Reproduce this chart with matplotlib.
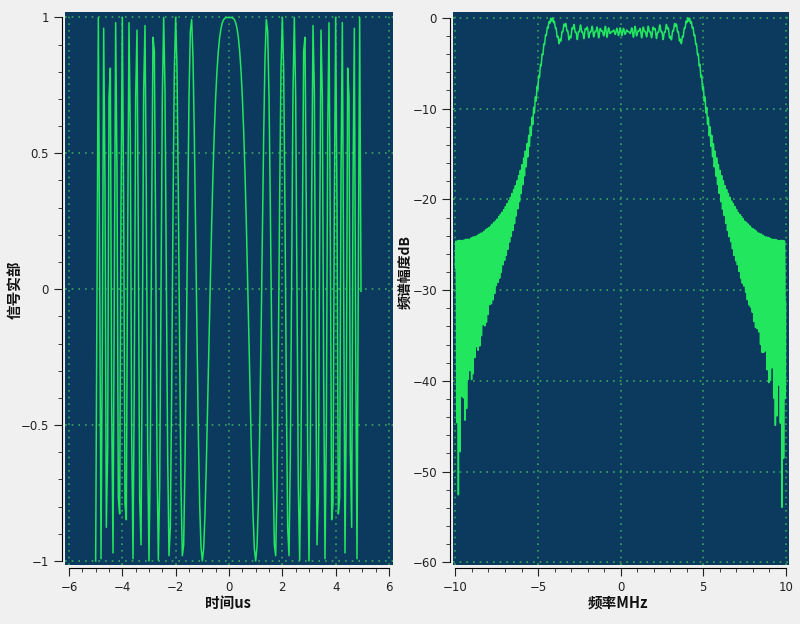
import numpy as np
import matplotlib
matplotlib.use("Agg")
import matplotlib.pyplot as plt
from matplotlib.ticker import MultipleLocator

plt.rcParams["font.family"] = ["Noto Sans CJK SC", "DejaVu Sans"]

# LFM pulse parameters: pulse -5..5 us, sweep -5..5 MHz, shown over +-10 MHz
pulse_us = 10.0
band_mhz = 10.0
fs_mhz = 20.0
nfft = 2048

t_us = np.arange(-pulse_us / 2, pulse_us / 2, 1.0 / fs_mhz)
k = band_mhz / pulse_us
sig = np.exp(1j * np.pi * k * t_us ** 2)
spec = np.abs(np.fft.fftshift(np.fft.fft(sig, nfft)))
spec_db = 20 * np.log10(spec / spec.max())
f_mhz = np.fft.fftshift(np.fft.fftfreq(nfft, 1.0 / fs_mhz))

BG = "#0c3a5f"
LINE = "#22e65e"
GRID = "#35a85c"
W, H = 800, 624

fig = plt.figure(figsize=(8.0, 6.24), dpi=100, facecolor="#f0f0f0")


def make_ax(x0, x1, y0, y1):
    return fig.add_axes([x0 / W, 1 - y1 / H, (x1 - x0) / W, (y1 - y0) / H])


def style(ax, xb, yb):
    ax.set_facecolor(BG)
    for s in ("top", "right"):
        ax.spines[s].set_visible(False)
    ax.spines["left"].set_position(("outward", 2))
    ax.spines["bottom"].set_position(("outward", 2))
    ax.spines["left"].set_bounds(*yb)
    ax.spines["bottom"].set_bounds(*xb)
    ax.tick_params(which="major", length=6, labelsize=8.5, color="#222222", labelcolor="#222222")
    ax.tick_params(which="minor", length=3, color="#222222")
    ax.grid(True, which="major", color=GRID, linestyle=(0, (1, 3)), linewidth=1.2)
    ax.set_axisbelow(True)
    for lbl in ax.get_xticklabels() + ax.get_yticklabels():
        lbl.set_fontfamily("DejaVu Sans")


# left: real part of the chirp
ax1 = make_ax(65, 393, 12, 565)
ax1.plot(t_us, sig.real, color=LINE, lw=1.1)
ax1.set_xlim(-6.15, 6.15)
ax1.set_ylim(-1.015, 1.02)
ax1.xaxis.set_minor_locator(MultipleLocator(0.5))
ax1.yaxis.set_minor_locator(MultipleLocator(0.1))
ax1.set_yticks([-1, -0.5, 0, 0.5, 1])
ax1.set_yticklabels(["\u22121", "\u22120.5", "0", "0.5", "1"])
ax1.set_xticks([-6, -4, -2, 0, 2, 4, 6])
ax1.set_xticklabels(["\u22126", "\u22124", "\u22122", "0", "2", "4", "6"])
style(ax1, (-6, 6), (-1, 1))

# right: amplitude spectrum in dB
ax2 = make_ax(453, 789, 12, 565)
ax2.plot(f_mhz, spec_db, color=LINE, lw=1.1)
ax2.set_xlim(-10.15, 10.2)
ax2.set_ylim(-60.3, 0.65)
ax2.xaxis.set_minor_locator(MultipleLocator(1))
ax2.yaxis.set_minor_locator(MultipleLocator(2))
ax2.set_xticks([-10, -5, 0, 5, 10])
ax2.set_xticklabels(["\u221210", "\u22125", "0", "5", "10"])
ax2.set_yticks([-60, -50, -40, -30, -20, -10, 0])
ax2.set_yticklabels(["\u221260", "\u221250", "\u221240", "\u221230", "\u221220", "\u221210", "0"])
style(ax2, (-10, 10), (-60, 0))

lab = dict(fontsize=10.5, fontweight="bold", color="#111111")
fig.text(228 / W, 1 - 603 / H, "时间us", ha="center", va="center", **lab)
fig.text(15 / W, 1 - 290 / H, "信号实部", ha="center", va="center", rotation=90, **lab)
fig.text(618 / W, 1 - 603 / H, "频率MHz", ha="center", va="center", **lab)
fig.text(405 / W, 1 - 272 / H, "频谱幅度dB", ha="center", va="center", rotation=90,
         fontsize=10, fontweight="bold", color="#111111")

fig.savefig("out.png", dpi=100, facecolor=fig.get_facecolor())
